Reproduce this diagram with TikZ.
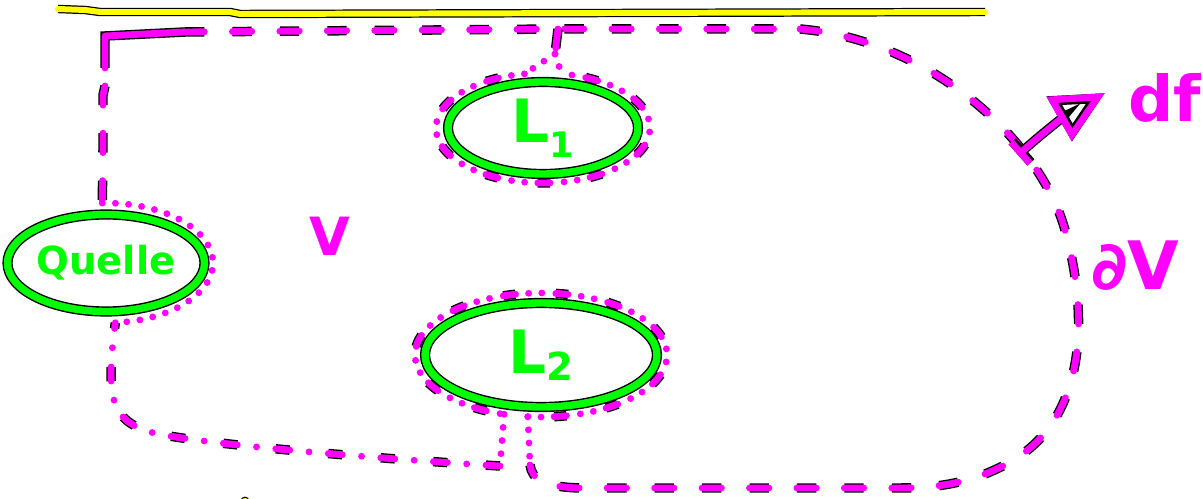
\documentclass[tikz,border=0pt]{standalone}
\usepackage{fontspec}
\setmainfont{DejaVu Sans}
\usetikzlibrary{shapes.geometric,arrows.meta}
\definecolor{pen}{HTML}{FF00FF}
\definecolor{leaf}{HTML}{00FF00}
\definecolor{sun}{HTML}{FFFF00}
\begin{document}
\begin{tikzpicture}[x=0.02cm, y=-0.02cm,
  inkpen/.style={draw=pen, line width=3.9pt, line cap=round, line join=round, #1,
    preaction={draw=black, line width=5.4pt, #1}},
  solidpen/.style={inkpen={}},
  dashpen/.style={inkpen={dash pattern=on 11pt off 16pt}},
  dotpen/.style={inkpen={dash pattern=on 0pt off 7.5pt}},
  mixpen/.style={inkpen={dash pattern=on 0pt off 7.5pt on 0pt off 7.5pt on 7pt off 8pt}},
  dashdot/.style={inkpen={dash pattern=on 8pt off 11pt on 0pt off 11pt}},
  sunline/.style={draw=sun, line width=3.4pt, line cap=round, line join=round,
    preaction={draw=black, line width=4.8pt}},
  lens/.style={ellipse, draw=leaf, line width=4.2pt, inner sep=0pt,
    preaction={draw=black, line width=5.8pt}, text=leaf,
    font=\bfseries\fontsize{34}{34}\selectfont},
  penlabel/.style={text=pen, inner sep=0pt, font=\bfseries\fontsize{#1}{#1}\selectfont},
]
\useasboundingbox (0,0) rectangle (1203,499);

% wall along the top
\draw[sunline] (58,9) -- (85,10) -- (100,12) -- (230,12) -- (240,14) -- (985,12);
\fill[sun, draw=black, line width=0.6pt] (245,501) circle (2.2pt);

% source and sinks
\node[lens, minimum width=3.86cm, minimum height=1.94cm,
  font=\bfseries\fontsize{22}{22}\selectfont] (Q) at (106,263) {Quelle};
\node[lens, minimum width=3.8cm, minimum height=1.84cm] (L1) at (543,128)
  {L\raisebox{-0.25em}{\fontsize{20}{20}\selectfont 1}};
\node[lens, minimum width=4.64cm, minimum height=2.08cm] (L2) at (541,355)
  {L\raisebox{-0.12em}{\fontsize{22}{22}\selectfont 2}};

% labels
\node[penlabel=30] (V) at (330,236) {V};
\node[penlabel=38] (dV) at (1135,266) {∂V};
\node[penlabel=36, anchor=base west] (df) at (1128,122) {df};

% points of the boundary
\coordinate (tl) at (105,36);
\coordinate (tr) at (800,29);
\coordinate (ltop) at (558,29);
\coordinate (lsplit) at (555,54);
\coordinate (qtop) at ([shift={(92:2.14cm and 1.2cm)}]Q.center);
\coordinate (qbot) at ([shift={(-85:2.14cm and 1.2cm)}]Q.center);
\coordinate (l1a) at ([shift={(100:2.14cm and 1.1cm)}]L1.center);
\coordinate (l1b) at ([shift={(80:2.14cm and 1.1cm)}]L1.center);
\coordinate (l2a) at ([shift={(264:2.52cm and 1.24cm)}]L2.center);
\coordinate (l2b) at ([shift={(253:2.52cm and 1.24cm)}]L2.center);
\coordinate (l2r) at (530,465);
\coordinate (l2l) at (500,466);

% corner and top edge
\draw[solidpen] (105,68) -- (tl) -- (185,32);
\draw[dashpen] (185,32) -- (ltop) -- (tr);
\draw[dashpen] (tl) ++(0,50) -- (103,95) -- (103,150) -- (qtop);

% right side and bottom
\draw[dashpen] (tr) .. controls (930,40) and (1040,140) .. (1065,230)
  .. controls (1090,320) and (1085,420) .. (1010,462)
  .. controls (975,482) and (940,488) .. (900,488) -- (580,488)
  .. controls (545,487) and (532,480) .. (l2r);

% bottom left back to the source
\draw[dashdot] (l2l) .. controls (400,460) and (200,445) .. (150,432)
  .. controls (112,420) and (105,400) .. (qbot);

% around the source
\draw[dotpen] (qtop) arc[start angle=92, end angle=-85, x radius=2.14cm, y radius=1.2cm];

% around the first sink
\draw[dashpen] (ltop) -- (lsplit);
\draw[dotpen] (lsplit) -- (l1a);
\draw[dotpen] (lsplit) -- (l1b);
\draw[mixpen] (l1a) arc[start angle=100, end angle=440, x radius=2.14cm, y radius=1.1cm];

% around the second sink
\draw[mixpen] (l2a) arc[start angle=264, end angle=613, x radius=2.52cm, y radius=1.24cm];
\draw[dotpen] (l2a) -- (l2r);
\draw[dotpen] (l2b) -- (l2l);

% surface element arrow
\coordinate (a0) at (1018,155);
\coordinate (a1) at (1105,93);
\draw[solidpen, {Bar[width=16pt]}-{Triangle[open, length=30pt, width=28pt]}]
  (a0) to[bend left=6] (a1);
\end{tikzpicture}
\end{document}
